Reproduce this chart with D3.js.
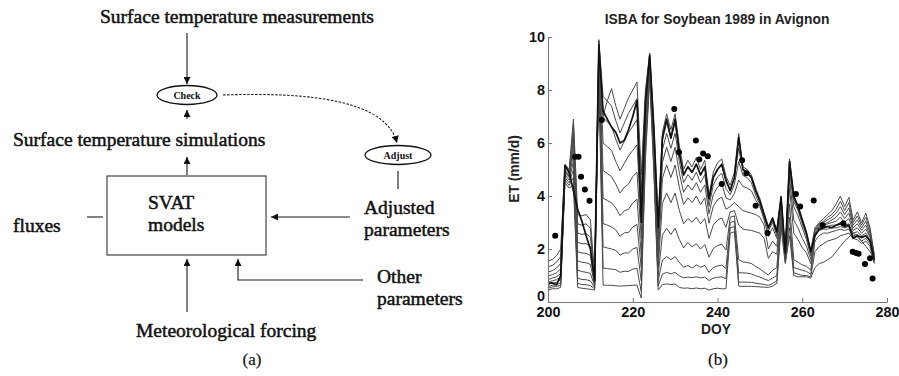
<!DOCTYPE html>
<html>
<head>
<meta charset="utf-8">
<script src="https://cdn.jsdelivr.net/npm/d3@7"></script>
<style>
  html, body { margin: 0; padding: 0; background: #fff; }
  svg { display: block; }
</style>
</head>
<body>
<svg id="fig" width="899" height="376"></svg>
<script>
// ---------------- Panel (b) data: ISBA ET runs, Soybean 1989, Avignon ----------------
const doy = [200,201,202,203,204,205,206,207,208,209,
             210,211,212,213,214,215,216,217,218,219,
             220,221,222,223,224,225,226,227,228,229,
             230,231,232,233,234,235,236,237,238,239,
             240,241,242,243,244,245,246,247,248,249,
             250,251,252,253,254,255,256,257,258,259,
             260,261,262,263,264,265,266,267,268,269,
             270,271,272,273,274,275,276,277];

// Simulated ET (mm/d), one array per parameter set, highest to lowest
const run01 = [1.55,1.6,1.75,2.0,5.2,5.0,6.9,3.3,3.25,3.3,
               3.1,1.0,9.9,7.0,7.6,8.05,7.4,6.9,7.3,7.7,
               8.0,8.3,4.8,8.0,9.4,6.6,3.0,6.4,7.1,6.5,
               7.1,5.9,5.0,5.35,5.1,5.45,5.0,5.35,4.0,4.9,
               5.25,5.4,4.75,4.4,4.9,6.36,5.1,5.0,4.8,4.3,
               3.9,3.35,2.85,3.2,2.7,4.0,1.9,5.4,4.0,3.6,
               3.1,2.6,1.95,2.8,3.0,3.15,3.3,3.45,3.7,4.0,
               3.6,3.95,3.1,3.4,3.0,3.35,2.8,1.8];
const run02 = [1.33,1.38,1.5,1.71,5.1,4.9,6.7,2.95,2.9,2.95,
               2.78,0.92,9.85,7.76,7.58,7.39,6.84,6.38,6.75,7.12,
               7.39,7.67,4.2,7.8,9.35,6.4,2.6,6.1,6.77,6.15,
               6.77,5.63,4.77,5.11,4.87,5.2,4.77,5.11,3.82,4.68,
               5.01,5.15,4.54,4.25,4.7,5.8,4.96,4.87,4.67,4.19,
               3.8,3.26,2.78,3.1,2.6,3.95,1.85,5.3,3.9,3.55,
               3.05,2.55,1.9,2.75,2.95,3.05,3.2,3.3,3.5,3.8,
               3.45,3.75,3.0,3.25,2.9,3.2,2.7,1.75];
const run03 = [1.13,1.18,1.28,1.45,5.0,4.85,6.45,2.6,2.55,2.58,
               2.45,0.85,9.75,6.96,6.8,6.63,6.14,5.73,6.06,6.39,
               6.63,6.88,3.6,7.5,9.3,6.2,2.2,5.75,6.37,5.8,
               6.37,5.3,4.5,4.81,4.59,4.9,4.5,4.81,3.61,4.41,
               4.72,4.86,4.28,4.05,4.45,5.3,4.78,4.69,4.5,4.03,
               3.66,3.15,2.69,3.0,2.5,3.9,1.8,5.15,3.8,3.45,
               2.95,2.5,1.85,2.7,2.9,3.0,3.1,3.2,3.35,3.6,
               3.3,3.55,2.9,3.1,2.8,3.05,2.6,1.7];
const run04 = [0.98,1.03,1.1,1.25,4.95,4.8,6.2,2.25,2.2,2.2,
               2.1,0.78,9.6,6.0,5.86,5.72,5.3,4.95,5.23,5.51,
               5.72,5.93,3.0,7.2,9.2,6.0,1.9,5.27,5.84,5.3,
               5.84,4.86,4.14,4.42,4.22,4.5,4.14,4.42,3.33,4.05,
               4.34,4.46,3.93,3.85,4.1,4.6,4.36,4.3,4.2,3.85,
               3.6,3.1,2.47,2.8,2.4,3.8,1.75,5.0,3.6,3.25,
               2.8,2.35,1.75,2.65,2.85,2.95,3.0,3.1,3.2,3.4,
               3.15,3.35,2.8,2.95,2.7,2.9,2.5,1.65];
const run05 = [0.85,0.9,0.95,1.07,4.9,4.75,5.9,1.9,1.85,1.84,
               1.76,0.72,9.45,4.96,4.85,4.73,4.45,4.11,4.33,4.45,
               4.73,4.9,2.4,6.9,9.1,5.8,1.6,4.67,5.17,4.7,
               5.17,4.32,3.68,3.93,3.75,4.0,3.68,3.93,2.97,3.61,
               3.86,3.96,3.5,3.6,3.75,3.6,3.45,3.4,3.35,3.3,
               3.2,2.9,2.0,2.3,2.1,3.7,1.7,4.7,3.1,2.8,
               2.4,2.1,1.6,2.6,2.8,2.9,2.95,3.0,3.05,3.2,
               3.0,3.15,2.7,2.8,2.6,2.75,2.45,1.6];
const run06 = [0.75,0.8,0.84,0.94,4.85,4.7,5.6,1.55,1.5,1.48,
               1.42,0.66,9.3,3.92,3.83,3.74,3.55,3.26,3.44,3.5,
               3.74,3.88,1.8,6.6,9.0,5.6,1.3,3.72,4.11,3.75,
               4.11,3.45,2.95,3.15,3.01,3.2,2.95,3.15,2.4,2.9,
               3.09,3.17,2.82,3.4,3.45,2.9,2.75,2.72,2.7,2.65,
               2.6,2.4,1.65,1.9,1.8,3.6,1.65,4.3,2.6,2.35,
               2.05,1.85,1.45,2.55,2.75,2.8,2.85,2.9,2.9,3.0,
               2.9,2.95,2.6,2.65,2.5,2.6,2.35,1.55];
const run07 = [0.66,0.71,0.74,0.83,4.8,4.6,5.3,1.2,1.15,1.12,
               1.08,0.6,9.1,2.96,2.9,2.83,2.72,2.48,2.61,2.62,
               2.83,2.93,1.3,6.3,8.9,5.4,1.0,2.53,2.78,2.55,
               2.78,2.36,2.04,2.25,2.08,2.2,2.0,2.17,1.69,2.01,
               2.13,2.18,1.96,3.2,3.25,1.6,1.51,1.49,1.45,1.34,
               1.25,1.13,1.02,1.2,1.3,3.4,1.6,3.7,1.6,1.5,
               1.4,1.35,1.2,2.5,2.7,2.75,2.75,2.8,2.8,2.85,
               2.8,2.85,2.5,2.55,2.4,2.5,2.3,1.5];
const run08 = [0.58,0.63,0.65,0.72,4.7,4.5,5.0,0.9,0.85,0.84,
               0.8,0.55,8.9,2.08,2.04,2.0,1.95,1.77,1.85,1.85,
               2.0,2.06,0.8,6.0,8.75,5.2,0.8,1.58,1.71,1.6,
               1.71,1.49,1.31,1.38,1.28,1.4,1.31,1.38,1.12,1.3,
               1.36,1.39,1.27,3.0,3.05,1.1,1.1,1.09,1.06,0.99,
               0.94,0.87,0.81,0.9,1.0,3.2,1.55,3.2,1.3,1.25,
               1.2,1.15,1.05,2.3,2.5,2.6,2.6,2.65,2.7,2.75,
               2.7,2.75,2.45,2.45,2.3,2.4,2.2,1.5];
const run09 = [0.52,0.57,0.58,0.64,4.6,4.4,4.7,0.7,0.66,0.65,
               0.62,0.5,8.7,1.28,1.26,1.24,1.22,1.12,1.16,1.15,
               1.24,1.27,0.4,5.7,8.6,5.0,0.6,1.05,1.12,1.06,
               1.12,0.99,0.91,0.94,0.92,0.95,0.91,0.94,0.81,0.9,
               0.93,0.95,0.88,2.8,2.85,0.75,0.75,0.75,0.74,0.71,
               0.69,0.66,0.63,0.7,0.8,3.0,1.5,2.8,1.1,1.05,
               1.0,1.0,0.95,1.9,2.1,2.2,2.3,2.35,2.4,2.5,
               2.55,2.6,2.4,2.35,2.2,2.3,2.1,1.45];
const run10 = [0.45,0.5,0.5,0.55,4.5,4.3,4.4,0.55,0.52,0.5,
               0.48,0.45,8.5,0.64,0.63,0.63,0.61,0.6,0.61,0.62,
               0.63,0.64,0.15,5.4,8.4,4.8,0.45,0.66,0.68,0.66,
               0.68,0.55,0.52,0.53,0.5,0.53,0.5,0.52,0.45,0.5,
               0.52,0.5,0.5,2.6,2.65,0.6,0.59,0.59,0.59,0.58,
               0.57,0.56,0.55,0.6,0.7,2.8,1.45,2.5,1.0,0.95,
               0.95,0.95,0.9,1.3,1.45,1.5,1.6,1.7,1.9,2.1,
               2.3,2.45,2.6,2.5,2.3,2.1,1.9,1.6];
// Reference run, drawn heavier
const bestRun = [0.7,0.72,0.65,1.0,5.15,4.9,4.2,3.5,3.05,2.5,
                 2.0,0.8,9.7,7.2,6.9,6.6,6.4,6.0,6.1,6.5,
                 7.0,7.6,3.0,7.5,9.3,6.5,2.8,6.2,6.9,6.2,
                 6.9,5.6,4.8,5.1,4.9,5.2,4.8,5.1,3.9,4.7,
                 5.0,5.2,4.6,4.2,4.7,6.2,5.0,4.9,4.7,4.2,
                 3.8,3.3,2.8,3.15,2.65,3.95,1.85,5.3,4.0,3.6,
                 3.1,2.6,1.9,2.5,2.75,2.8,2.85,2.8,2.9,2.95,
                 2.85,2.9,2.4,2.5,2.45,2.5,2.3,1.6];
const simRuns = [run01, run02, run03, run04, run05, run06, run07, run08, run09, run10];

// Measured ET (mm/d)
const obsDay = [201.7,206.4,207.2,207.8,208.7,209.8,212.7,229.8,230.9,234.9,
                235.7,236.6,237.7,241.0,245.8,246.8,249.0,251.8,258.5,259.5,
                262.7,264.8,269.7,271.9,272.7,273.3,274.8,276.0,276.6];
const obsET  = [2.5,5.48,5.48,4.73,4.25,3.82,6.87,7.28,5.65,6.09,
                5.38,5.6,5.5,4.45,5.35,4.86,3.63,2.6,4.08,3.6,
                3.83,2.9,2.97,1.9,1.85,1.82,1.43,1.65,0.89];

const xTicks = [200, 220, 240, 260, 280];
const yTicks = [0, 2, 4, 6, 8, 10];

// ---------------- Panel (a) texts ----------------
const flowLabels = {
  measured: "Surface temperature measurements",
  simulated: "Surface temperature simulations",
  model1: "SVAT", model2: "models",
  fluxes: "fluxes",
  adj1: "Adjusted", adj2: "parameters",
  oth1: "Other", oth2: "parameters",
  forcing: "Meteorological forcing",
  check: "Check", adjust: "Adjust"
};

const svg = d3.select("#fig");

// ================= Panel (a): flow diagram =================
const defs = svg.append("defs");
defs.append("marker")
  .attr("id", "head")
  .attr("viewBox", "0 0 10 10")
  .attr("refX", 10).attr("refY", 5)
  .attr("markerUnits", "userSpaceOnUse")
  .attr("markerWidth", 8).attr("markerHeight", 7)
  .attr("orient", "auto")
  .append("path").attr("d", "M0,0 L10,5 L0,10 Z").attr("fill", "#111");

const ga = svg.append("g").attr("class", "panel-a");
const serif = "'Liberation Serif','Times New Roman',Times,serif";

function label(txt, x, y, opts = {}) {
  return ga.append("text")
    .attr("x", x).attr("y", y)
    .attr("font-family", serif)
    .attr("font-size", opts.size || 19.5)
    .attr("font-weight", opts.weight || "normal")
    .attr("text-anchor", opts.anchor || "start")
    .attr("fill", "#111")
    .attr("stroke", "#111")
    .attr("stroke-width", opts.stroke == null ? 0.5 : opts.stroke)
    .text(txt);
}

function link(d, arrow, dash) {
  const p = ga.append("path").attr("d", d)
    .attr("fill", "none").attr("stroke", "#1a1a1a").attr("stroke-width", 1.1);
  if (arrow) p.attr("marker-end", "url(#head)");
  if (dash) p.attr("stroke-dasharray", dash);
  return p;
}

label(flowLabels.measured, 100, 23);
label(flowLabels.simulated, 13, 146);
label(flowLabels.model1, 148, 209);
label(flowLabels.model2, 148, 231);
label(flowLabels.fluxes, 13, 232);
label(flowLabels.adj1, 364, 214);
label(flowLabels.adj2, 364, 236);
label(flowLabels.oth1, 377, 283);
label(flowLabels.oth2, 377, 305);
label(flowLabels.forcing, 136, 337);
label("(a)", 252, 365, { anchor: "middle", size: 17, stroke: 0.2 });

// SVAT box
ga.append("rect").attr("x", 107).attr("y", 176).attr("width", 159).attr("height", 79)
  .attr("fill", "none").attr("stroke", "#333").attr("stroke-width", 1.1);

// Check / Adjust ellipses
ga.append("ellipse").attr("cx", 187).attr("cy", 95).attr("rx", 30).attr("ry", 9.5)
  .attr("fill", "none").attr("stroke", "#111").attr("stroke-width", 1.3);
label(flowLabels.check, 187, 98.5, { anchor: "middle", size: 10, weight: "bold", stroke: 0 });
ga.append("ellipse").attr("cx", 398).attr("cy", 155).attr("rx", 33).attr("ry", 9.5)
  .attr("fill", "none").attr("stroke", "#111").attr("stroke-width", 1.3);
label(flowLabels.adjust, 398, 158.5, { anchor: "middle", size: 10, weight: "bold", stroke: 0 });

// Connectors
link("M187,33 L187,84", true);
link("M187,119 L187,110", true);
link("M187,175 L187,157", true);
link("M350,217 L271,217", true);
link("M187,312 L187,259", true);
link("M363,280 L238,280 L238,259", true);
link("M223,95 C310,92 386,100 397,143", true, "2.5,1.5");
link("M398,171 L398,189", false);
link("M87,217 L103,217", false);

// ================= Panel (b): ET chart =================
const x = d3.scaleLinear().domain([200, 280]).range([548, 887]);
const y = d3.scaleLinear().domain([0, 10]).range([302, 37]);
const sans = "'Liberation Sans',Arial,Helvetica,sans-serif";

const gb = svg.append("g").attr("class", "panel-b");

const etLine = d3.line()
  .x((d, i) => x(doy[i]))
  .y(d => y(d));

gb.append("g").selectAll("path")
  .data(simRuns.slice().reverse())
  .join("path")
  .attr("d", etLine)
  .attr("fill", "none")
  .attr("stroke", "#4a4a4a")
  .attr("stroke-width", 1)
  .attr("stroke-linejoin", "round");

gb.append("path")
  .attr("d", etLine(bestRun))
  .attr("fill", "none")
  .attr("stroke", "#111")
  .attr("stroke-width", 1.7)
  .attr("stroke-linejoin", "round");

gb.append("g").selectAll("circle")
  .data(obsDay)
  .join("circle")
  .attr("cx", d => x(d))
  .attr("cy", (d, i) => y(obsET[i]))
  .attr("r", 3)
  .attr("fill", "#000");

// Axes (MATLAB style: ticks pointing inward, no box)
const xAxis = gb.append("g")
  .attr("transform", `translate(0,${y(0)})`)
  .call(d3.axisBottom(x).tickValues(xTicks).tickSizeInner(-4).tickSizeOuter(0).tickPadding(5));
const yAxis = gb.append("g")
  .attr("transform", `translate(${x(200)},0)`)
  .call(d3.axisLeft(y).tickValues(yTicks).tickSizeInner(-4).tickSizeOuter(0).tickPadding(3));

[xAxis, yAxis].forEach(a => {
  a.select(".domain").attr("stroke", "#777").attr("stroke-width", 1.1);
  a.selectAll(".tick line").attr("stroke", "#777");
  a.selectAll("text")
    .attr("font-family", sans)
    .attr("font-size", 14.4)
    .attr("font-weight", "bold")
    .attr("fill", "#111");
});
// the zero label sits just above the corner so it clears the "200" below it
yAxis.selectAll(".tick").filter(d => d === 0).select("text").attr("dy", "-0.12em");

gb.append("text")
  .attr("x", 717).attr("y", 23.5)
  .attr("text-anchor", "middle")
  .attr("font-family", sans).attr("font-size", 13.8).attr("font-weight", "bold")
  .attr("fill", "#222")
  .text("ISBA for Soybean 1989 in Avignon");

gb.append("text")
  .attr("transform", "translate(519,169) rotate(-90)")
  .attr("text-anchor", "middle")
  .attr("font-family", sans).attr("font-size", 13.8).attr("font-weight", "bold")
  .attr("fill", "#222")
  .text("ET (mm/d)");

gb.append("text")
  .attr("x", 716).attr("y", 333.5)
  .attr("text-anchor", "middle")
  .attr("font-family", sans).attr("font-size", 13.8).attr("font-weight", "bold")
  .attr("fill", "#222")
  .text("DOY");

gb.append("text")
  .attr("x", 718).attr("y", 365)
  .attr("text-anchor", "middle")
  .attr("font-family", serif).attr("font-size", 17)
  .attr("fill", "#111").attr("stroke", "#111").attr("stroke-width", 0.2)
  .text("(b)");
</script>
</body>
</html>
